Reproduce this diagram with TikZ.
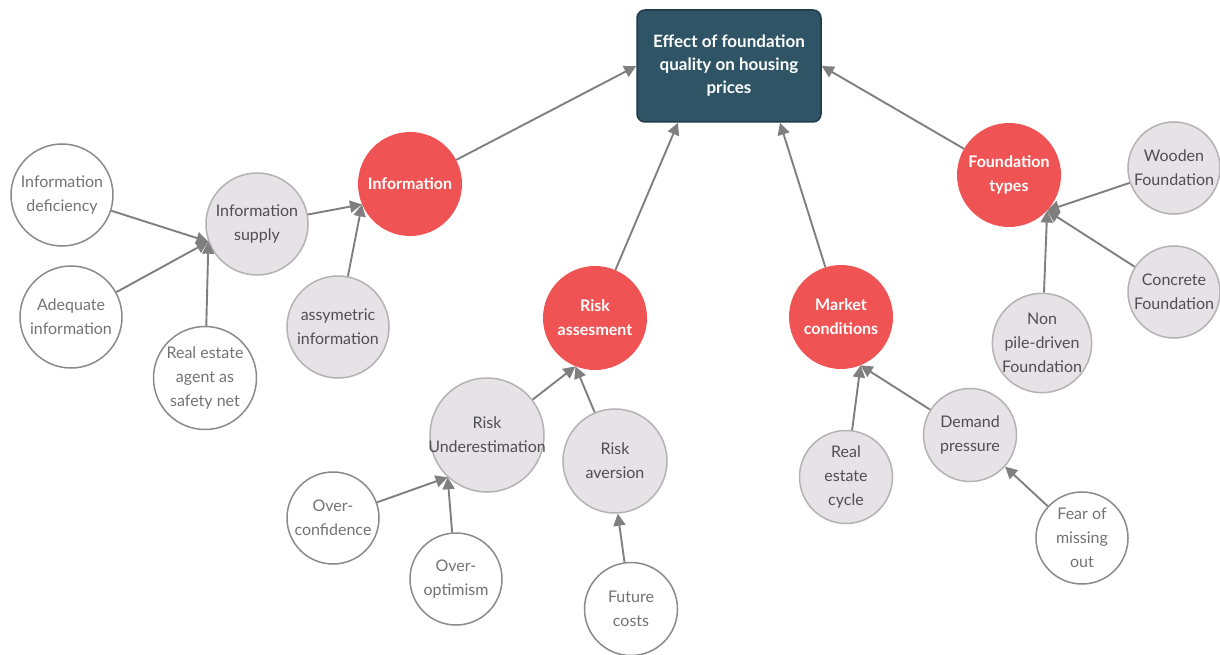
\documentclass[tikz,border=0pt]{standalone}
\usepackage{fontspec}
\setmainfont{Lato}
\usetikzlibrary{arrows.meta}
\definecolor{mainfill}{HTML}{2F5466}
\definecolor{maindraw}{HTML}{1E3A48}
\definecolor{redfill}{HTML}{F05353}
\definecolor{grayfill}{HTML}{E6E2E6}
\definecolor{graydraw}{HTML}{B4B2B4}
\definecolor{whitedraw}{HTML}{8A8A8A}
\definecolor{edgegray}{HTML}{7F7F7F}
\definecolor{txtgray}{HTML}{4F4F4F}
\definecolor{txtlight}{HTML}{737373}
\tikzset{
  base/.style={circle, inner sep=0pt, align=center, font=\fontsize{16}{24}\selectfont},
  redc/.style={base, fill=redfill, minimum size=104pt, text=white, font=\fontsize{16}{24}\selectfont\bfseries},
  grayc/.style={base, fill=grayfill, draw=graydraw, line width=1.5pt, text=txtgray},
  whitec/.style={base, fill=white, draw=whitedraw, line width=1.5pt, text=txtlight},
  conn/.style={draw=edgegray, line width=1.9pt, -{Triangle[length=12pt,width=12pt]}},
}
\begin{document}
\begin{tikzpicture}[x=1pt,y=-1pt]
\useasboundingbox (0,0) rectangle (1220,655);
% main
\node[rectangle, rounded corners=8pt, fill=mainfill, draw=maindraw, line width=1.5pt,
      minimum width=184pt, minimum height=112pt, align=center, text=white,
      font=\fontsize{17}{23}\selectfont\bfseries] (main) at (729,66)
  {Effect of foundation\\quality on housing\\prices};
% red
\node[redc] (info) at (410,184) {Information};
\node[redc] (risk) at (595,318) {Risk\\assesment};
\node[redc] (market) at (841,317) {Market\\conditions};
\node[redc] (ftypes) at (1009,175) {Foundation\\types};
% information branch
\node[grayc, minimum size=102pt] (supply) at (257,224) {Information\\supply};
\node[grayc, minimum size=102pt] (asym) at (338,327) {assymetric\\information};
\node[whitec, minimum size=102pt] (defic) at (62,195) {Information\\deficiency};
\node[whitec, minimum size=102pt] (adeq) at (71,317) {Adequate\\information};
\node[whitec, minimum size=103pt] (agent) at (205,378) {Real estate\\agent as\\safety net};
% risk branch
\node[grayc, minimum size=114pt] (under) at (487,435) {Risk\\\makebox[0pt]{Underestimation}};
\node[grayc, minimum size=104pt] (aversion) at (615,461) {Risk\\aversion};
\node[whitec, minimum size=92pt] (conf) at (333,518) {Over-\\confidence};
\node[whitec, minimum size=92pt] (optim) at (456,579) {Over-\\optimism};
\node[whitec, minimum size=93pt] (future) at (631,609) {Future\\costs};
% market branch
\node[grayc, minimum size=93pt] (cycle) at (846,477) {Real\\estate\\cycle};
\node[grayc, minimum size=93pt] (demand) at (970,435) {Demand\\pressure};
\node[whitec, minimum size=92pt] (fomo) at (1082,538) {Fear of\\missing\\out};
% foundation branch
\node[grayc, minimum size=92pt] (wooden) at (1174,168) {Wooden\\Foundation};
\node[grayc, minimum size=92pt] (concrete) at (1174,292) {Concrete\\Foundation};
\node[grayc, minimum size=93pt] (nonpile) at (1042,343) {Non\\pile-driven\\Foundation};
% connectors
\draw[conn] (info) -- (main.west);
\draw[conn] (risk) -- ([xshift=-51pt]main.south);
\draw[conn] (market) -- ([xshift=51pt]main.south);
\draw[conn] (ftypes) -- (main.east);
\draw[conn] (supply) -- (info.203);
\draw[conn] (asym) -- (info.203);
\draw[conn] (defic) -- (supply.200);
\draw[conn] (adeq) -- (supply.200);
\draw[conn] (agent) -- (supply.200);
\draw[conn] (under) -- (risk.248);
\draw[conn] (aversion) -- (risk.248);
\draw[conn] (conf) -- (under.227);
\draw[conn] (optim) -- (under.227);
\draw[conn] (future) -- (aversion.273);
\draw[conn] (cycle) -- (market.292);
\draw[conn] (demand) -- (market.292);
\draw[conn] (fomo) -- (demand.318);
\draw[conn] (wooden) -- (ftypes.317);
\draw[conn] (concrete) -- (ftypes.317);
\draw[conn] (nonpile) -- (ftypes.317);
\end{tikzpicture}
\end{document}
